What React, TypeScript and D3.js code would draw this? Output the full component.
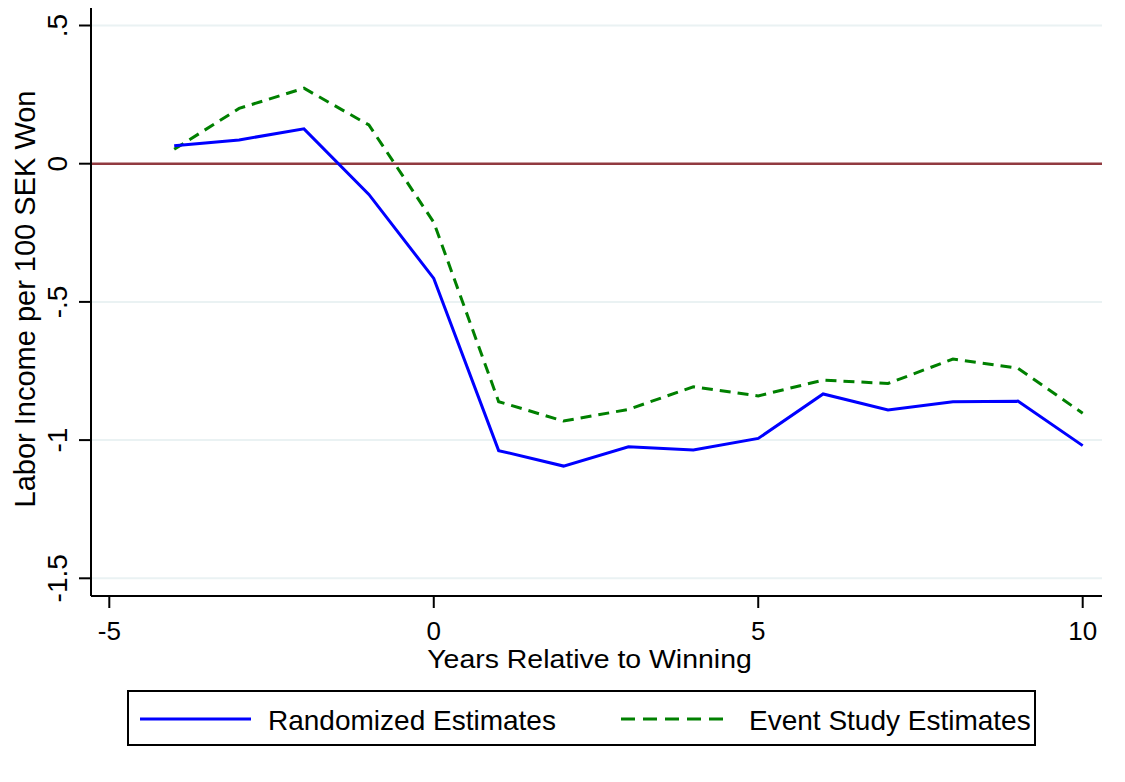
import * as d3 from "d3";

const years = [-4, -3, -2, -1, 0, 1, 2, 3, 4, 5, 6, 7, 8, 9, 10];
const randomized = [0.065, 0.086, 0.126, -0.111, -0.415, -1.038, -1.094, -1.024, -1.036, -0.994, -0.833, -0.891, -0.861, -0.859, -1.02];
const eventStudy = [0.052, 0.2, 0.273, 0.14, -0.212, -0.861, -0.931, -0.889, -0.807, -0.84, -0.783, -0.795, -0.707, -0.74, -0.903];
const xTicks = [-5, 0, 5, 10];
const yTicks = [0.5, 0, -0.5, -1, -1.5];
const yTickLabels = [".5", "0", "-.5", "-1", "-1.5"];

const W = 1125;
const H = 782;
const FONT = "'Liberation Sans', Arial, sans-serif";

const x = d3.scaleLinear().domain([-5, 10]).range([109.3, 1082.7]);
const y = d3.scaleLinear().domain([0.5, -1.5]).range([25.5, 578.3]);

const PLOT_L = 91;
const PLOT_R = 1102;
const PLOT_T = 8;
const PLOT_B = 596;

const line = d3
  .line<[number, number]>()
  .x((d) => x(d[0]))
  .y((d) => y(d[1]));

const App = () => {
  const blue = line(years.map((yr, i) => [yr, randomized[i]]));
  const green = line(years.map((yr, i) => [yr, eventStudy[i]]));

  return (
    <svg
      width={W}
      height={H}
      style={{ position: "absolute", left: 0, top: 0, background: "#fff" }}
      fontFamily={FONT}
    >
      <rect width={W} height={H} fill="#fff" />
      {/* grid */}
      {yTicks
        .filter((t) => t !== 0)
        .map((t) => (
          <line key={t} x1={PLOT_L} x2={PLOT_R} y1={y(t)} y2={y(t)} stroke="#eaf2f3" strokeWidth={2} />
        ))}
      {/* zero reference */}
      <line x1={PLOT_L} x2={PLOT_R} y1={y(0)} y2={y(0)} stroke="#913a40" strokeWidth={2.5} />

      <path d={green ?? ""} fill="none" stroke="#008000" strokeWidth={3} strokeDasharray="11,7" />
      <path d={blue ?? ""} fill="none" stroke="#0000ff" strokeWidth={3} />

      {/* y axis */}
      <line x1={PLOT_L} x2={PLOT_L} y1={PLOT_T} y2={PLOT_B} stroke="#000" strokeWidth={2} />
      {yTicks.map((t, i) => (
        <g key={t}>
          <line x1={PLOT_L - 12} x2={PLOT_L} y1={y(t)} y2={y(t)} stroke="#000" strokeWidth={2} />
          <text
            transform={`translate(67,${y(t)}) rotate(-90)`}
            textAnchor="middle"
            fontSize={28}
            fill="#000"
          >
            {yTickLabels[i]}
          </text>
        </g>
      ))}
      <text transform={`translate(35,299) rotate(-90)`} textAnchor="middle" fontSize={29} fill="#000">
        Labor Income per 100 SEK Won
      </text>

      {/* x axis */}
      <line x1={PLOT_L} x2={PLOT_R} y1={PLOT_B} y2={PLOT_B} stroke="#000" strokeWidth={2} />
      {xTicks.map((t) => (
        <g key={t}>
          <line x1={x(t)} x2={x(t)} y1={PLOT_B} y2={PLOT_B + 12} stroke="#000" strokeWidth={2} />
          <text x={x(t)} y={640} textAnchor="middle" fontSize={26} fill="#000">
            {t}
          </text>
        </g>
      ))}
      <text transform="translate(589.5,668) scale(1.138,1)" textAnchor="middle" fontSize={25} fill="#000">
        Years Relative to Winning
      </text>

      {/* legend */}
      <rect x={128} y={691} width={907} height={54} fill="#fff" stroke="#000" strokeWidth={2} />
      <line x1={140} x2={251} y1={719} y2={719} stroke="#0000ff" strokeWidth={3} />
      <text x={268} y={730} fontSize={28} fill="#000">
        Randomized Estimates
      </text>
      <line x1={621} x2={731} y1={719} y2={719} stroke="#008000" strokeWidth={3} strokeDasharray="14,8" />
      <text x={749} y={730} fontSize={28} fill="#000">
        Event Study Estimates
      </text>
    </svg>
  );
};

export default App;
